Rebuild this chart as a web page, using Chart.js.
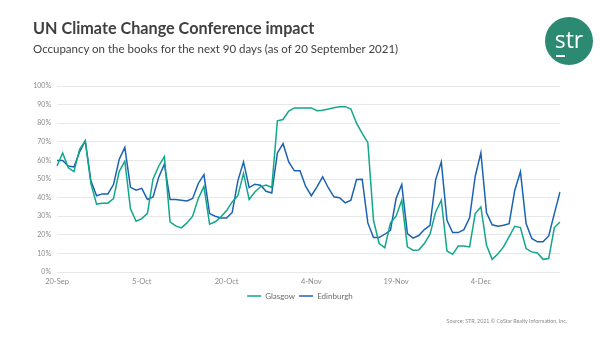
<!DOCTYPE html>
<html>
<head>
<meta charset="utf-8">
<script src="https://cdn.jsdelivr.net/npm/chart.js@4"></script>
<style>
  html, body { margin: 0; padding: 0; background: #fff; }
  #wrap { position: relative; width: 600px; height: 338px; overflow: hidden; font-family: Lato, "Open Sans", sans-serif; }
  #chartBox { position: absolute; left: 0; top: 0; width: 600px; height: 338px; }
  .title { position: absolute; left: 33px; top: 19px; font-size: 16.2px; line-height: 17px; font-weight: bold; color: #404040; white-space: nowrap; }
  .subtitle { position: absolute; left: 33px; top: 42px; font-size: 11.5px; line-height: 13px; color: #404040; white-space: nowrap; }
  .logo { position: absolute; left: 545px; top: 17px; width: 48px; height: 48px; border-radius: 50%; background: #2c8a73; color: #fff; text-align: center; font-size: 23px; line-height: 44px; font-family: "Open Sans", sans-serif; }
  .logo .s { position: relative; }
  .logo .s::after { content: ""; position: absolute; left: 1px; right: 1px; bottom: -2px; height: 2px; background: #fff; }
  .source { position: absolute; right: 33px; top: 318px; font-size: 5.3px; color: #8a8a8a; white-space: nowrap; }
</style>
</head>
<body>
<div id="wrap">
  <div id="chartBox"><canvas id="occChart"></canvas></div>
  <div class="title">UN Climate Change Conference impact</div>
  <div class="subtitle">Occupancy on the books for the next 90 days (as of 20 September 2021)</div>
  <div class="logo"><span class="s">s</span>tr</div>
  <div class="source">Source: STR. 2021 © CoStar Realty Information, Inc.</div>
</div>
<script>
// Occupancy (%) for each day from 20 Sep 2021
var glasgow = [
  57, 64, 56, 54, 66, 70.5, 47.5, 36.5, 37, 37, 39.5, 54, 59.6, 34, 27.3, 28.7,
  31.5, 50, 57, 62, 27, 24.8, 23.7, 26.4, 30, 39.5, 46, 25.7, 27, 29.6,
  33, 37.7, 41, 53, 39, 43, 45.8, 46.7, 45.4, 81.3, 82, 86.5, 88.2, 88.2, 88.2, 88.2,
  86.7, 87, 87.6, 88.3, 88.9, 88.9, 87.6, 80, 74.5, 69.5, 27.8, 15.3, 13.1, 26.4,
  30, 38.6, 13.5, 11.7, 11.8, 15.3, 20.3, 32.3, 38.6, 11.3, 9.5, 14, 14, 13.5,
  31.4, 35, 14.4, 6.8, 9.7, 13.5, 19, 24.6, 23.9, 12.6, 10.8, 10.2, 6.8, 7.2, 23.9, 26.9
];
var edinburgh = [
  60, 60, 57, 56.5, 64.6, 70.5, 49, 41, 42, 42, 47, 60.5, 67, 45.5, 44, 45,
  39, 40.4, 51, 58, 39, 39, 38.6, 38.2, 39.5, 47.6, 52.4, 31.4, 30, 29,
  29, 32, 49, 59.2, 45.4, 47.2, 46.7, 43.4, 42.5, 64, 69, 59.2, 54.4, 54.4, 46, 41,
  45.8, 51.2, 45.3, 40.4, 39.9, 37.2, 38.6, 49.7, 49.9, 26.4, 18.5, 18.5, 20.3, 22.4,
  39.5, 47, 20.6, 18.2, 19.6, 22.8, 25.1, 49.7, 59.2, 27.8, 21.2, 21.2, 22.8, 29.1,
  51.5, 64.1, 31.8, 25.4, 24.6, 25.1, 26, 44, 53.9, 26, 18, 16.2, 16.2, 19.4, 31.4, 43.1
];
var seriesNames = ['Glasgow', 'Edinburgh'];
var seriesColors = ['#12a68a', '#1b62b3'];
var yTicks = [0, 10, 20, 30, 40, 50, 60, 70, 80, 90, 100];

// one category per day, 20-Sep onwards; a label shows every 15 days
var monthNames = ['Jan', 'Feb', 'Mar', 'Apr', 'May', 'Jun', 'Jul', 'Aug', 'Sep', 'Oct', 'Nov', 'Dec'];
var days = [];
for (var i = 0; i < glasgow.length; i++) {
  var d = new Date(2021, 8, 20 + i);
  days.push(d.getDate() + '-' + monthNames[d.getMonth()]);
}

var ctx = document.getElementById('occChart').getContext('2d');
new Chart(ctx, {
  type: 'line',
  data: {
    labels: days,
    datasets: [
      { label: seriesNames[0], data: glasgow, borderColor: seriesColors[0], backgroundColor: seriesColors[0], borderWidth: 1.5, pointRadius: 0, tension: 0 },
      { label: seriesNames[1], data: edinburgh, borderColor: seriesColors[1], backgroundColor: seriesColors[1], borderWidth: 1.5, pointRadius: 0, tension: 0 }
    ]
  },
  options: {
    responsive: true,
    maintainAspectRatio: false,
    animation: false,
    layout: { padding: { left: 0, right: 0, top: 86, bottom: 28 } },
    plugins: {
      tooltip: { enabled: false },
      legend: {
        position: 'bottom',
        labels: {
          usePointStyle: true,
          pointStyle: 'line',
          pointStyleWidth: 14,
          padding: 4,
          boxHeight: 8,
          color: '#6b6b6b',
          font: { family: 'Lato', size: 8 }
        }
      }
    },
    scales: {
      x: {
        grid: { display: false, drawTicks: false },
        border: { display: false },
        afterFit: function(scale) { scale.height = 16; },
        ticks: {
          autoSkip: false,
          maxRotation: 0,
          padding: 5,
          color: '#8a8a8a',
          font: { family: 'Lato', size: 7.5 },
          callback: function(value, index) {
            return index % 15 === 0 ? days[index] : '';
          }
        }
      },
      y: {
        min: yTicks[0],
        max: yTicks[yTicks.length - 1],
        afterFit: function(scale) { scale.width = 57; },
        afterBuildTicks: function(scale) {
          scale.ticks = yTicks.map(function(v) { return { value: v }; });
        },
        grid: { color: '#e8e8e8', lineWidth: 1, drawTicks: false },
        border: { display: false },
        ticks: {
          padding: 6,
          color: '#8a8a8a',
          font: { family: 'Lato', size: 7 },
          callback: function(value) { return value + '%'; }
        }
      },
      // empty right-hand axis, only to keep the right margin so the legend stays centred
      yRight: {
        position: 'right',
        min: yTicks[0],
        max: yTicks[yTicks.length - 1],
        afterFit: function(scale) { scale.width = 40; },
        grid: { display: false, drawTicks: false },
        border: { display: false },
        ticks: { display: false }
      }
    }
  }
});
</script>
</body>
</html>
